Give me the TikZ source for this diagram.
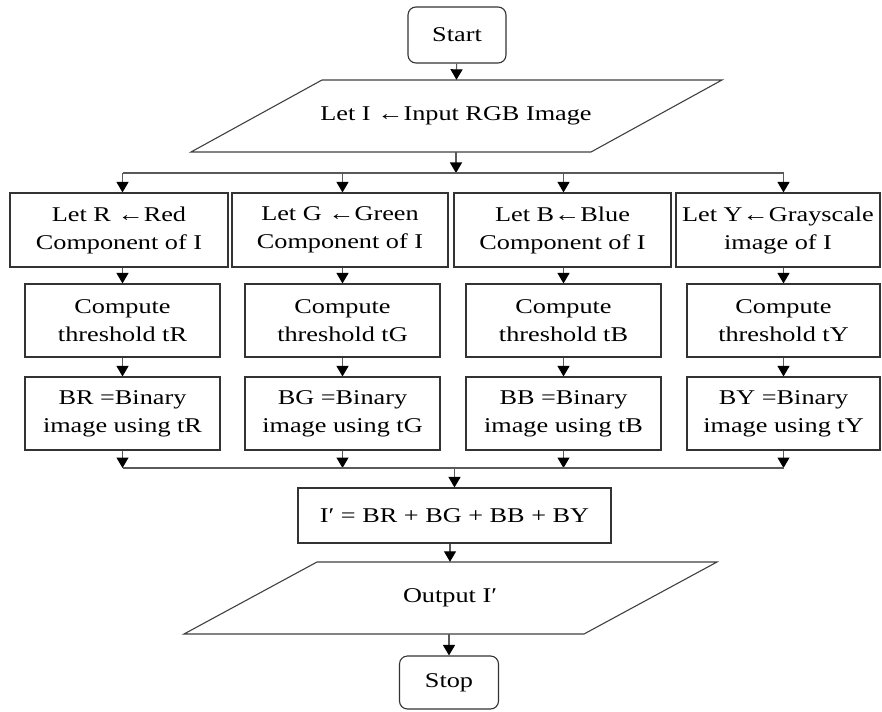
\documentclass[tikz,border=0pt]{standalone}
\usepackage{fontspec}
\setmainfont{Liberation Serif}[FakeStretch=1.25]
\usetikzlibrary{shapes,arrows.meta,positioning,calc}

\begin{document}
\begin{tikzpicture}[x=1pt,y=-1pt,
  box/.style={rectangle, draw=black!80, line width=1.1pt, align=center, inner sep=2pt, font=\fontsize{21}{28}\selectfont},
  term/.style={box, rounded corners=8pt},
  io/.style={rectangle, align=center, inner sep=0pt, minimum height=72pt, font=\fontsize{21}{28}\selectfont},
  para/.style={draw=black!75, line width=1.1pt},
  line/.style={draw=black!65, line width=1.2pt},
  arr/.style={line, -{Triangle[length=10.5pt,width=12pt,color=black]}}]
\useasboundingbox (0,0) rectangle (882,711);

\node[term, minimum width=98pt, minimum height=56pt] (start) at (457,35) {Start};
\node[io, minimum width=270pt] (input) at (456,116) {Let I ←Input RGB Image};
\draw[para] ($(input)+(-134,-36)$) -- ++(400,0) -- ++(-131,72) -- ++(-400,0) -- cycle;
\coordinate (split) at (456,173);

% first row
\node[box, minimum width=218pt, minimum height=74pt] (r1) at (119,230) {Let R ←Red\\Component of I};
\node[box, minimum width=216pt, minimum height=74pt] (g1) at (340,230) {Let G ←Green\\Component of I};
\node[box, minimum width=217pt, minimum height=74pt] (b1) at (562.5,230) {Let B←Blue\\Component of I};
\node[box, minimum width=204pt, minimum height=74pt] (y1) at (778,230) {Let Y←Grayscale\\image of I};

% second row
\node[box, minimum width=195pt, minimum height=73pt] (r2) at (122.5,320.5) {Compute\\threshold tR};
\node[box, minimum width=195pt, minimum height=73pt] (g2) at (342.5,320.5) {Compute\\threshold tG};
\node[box, minimum width=195pt, minimum height=73pt] (b2) at (563.5,320.5) {Compute\\threshold tB};
\node[box, minimum width=193pt, minimum height=73pt] (y2) at (783.5,320.5) {Compute\\threshold tY};

% third row
\node[box, minimum width=195pt, minimum height=73pt] (r3) at (122.5,413.5) {BR =Binary\\image using tR};
\node[box, minimum width=195pt, minimum height=73pt] (g3) at (342.5,413.5) {BG =Binary\\image using tG};
\node[box, minimum width=195pt, minimum height=73pt] (b3) at (563.5,413.5) {BB =Binary\\image using tB};
\node[box, minimum width=193pt, minimum height=73pt] (y3) at (783.5,413.5) {BY =Binary\\image using tY};

\coordinate (merge) at (454.5,468);
\node[box, minimum width=313pt, minimum height=55pt] (sum) at (454.5,515.5) {I′ = BR + BG + BB + BY};
\node[io, minimum width=270pt] (output) at (450,598) {Output I′};
\draw[para] ($(output)+(-133,-36)$) -- ++(400,0) -- ++(-133,72) -- ++(-400,0) -- cycle;
\node[term, minimum width=99pt, minimum height=53pt] (stop) at (449,682.5) {Stop};

\draw[arr] (start) -- (input);
\draw[arr] (input) -- (split);
\draw[line] (split -| r2) -- (split -| y2);
\foreach \c in {r,g,b,y} {
  \draw[arr] (split -| \c2) -- (\c1.north -| \c2);
  \draw[arr] (\c1.south -| \c2) -- (\c2);
  \draw[arr] (\c2) -- (\c3);
  \draw[arr] (\c3) -- (merge -| \c3);
}
\draw[line] (merge -| r3) -- (merge -| y3);
\draw[arr] (merge) -- (sum);
\draw[arr] (sum.south -| output) -- (output);
\draw[arr] (output.south -| stop) -- (stop);
\end{tikzpicture}
\end{document}
